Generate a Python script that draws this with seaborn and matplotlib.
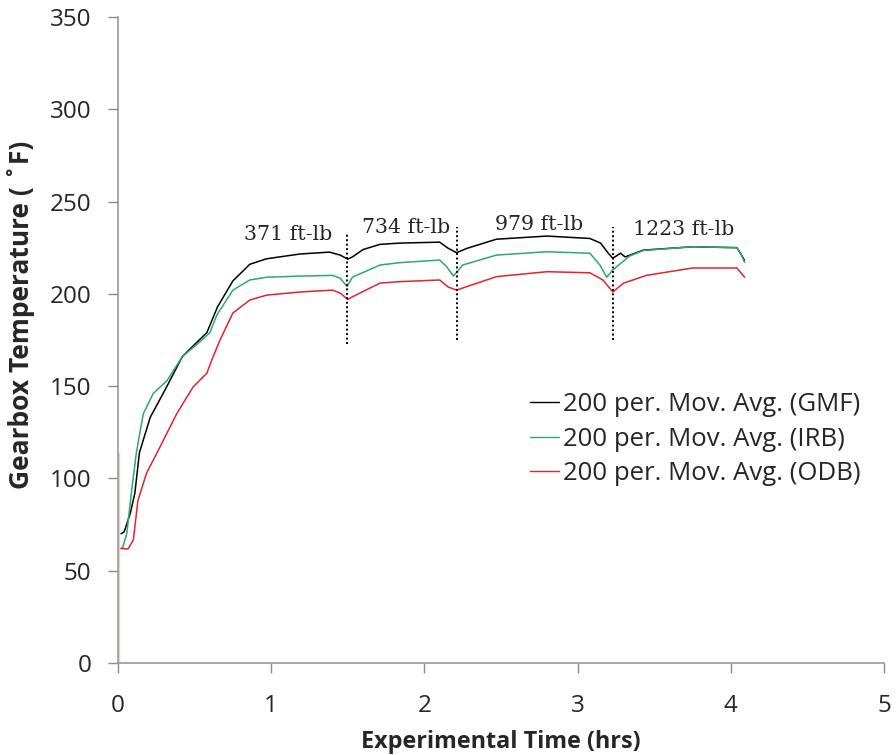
import numpy as np
import pandas as pd
import matplotlib
matplotlib.use("Agg")
import matplotlib.pyplot as plt
import seaborn as sns

# values (time in hrs, temperature in deg F)
gmf_t = [0.02, 0.04, 0.08, 0.11, 0.14, 0.21, 0.32, 0.42, 0.53, 0.58, 0.65, 0.75, 0.86, 0.97,
         1.19, 1.38, 1.45, 1.50, 1.53, 1.60, 1.71, 1.84, 2.10, 2.155, 2.21, 2.28, 2.47, 2.80,
         3.08, 3.15, 3.20, 3.23, 3.28, 3.31, 3.43, 3.75, 4.04, 4.07, 4.09]
gmf_T = [70, 71, 81, 92, 114, 133, 150, 166, 175, 179, 193, 207, 216, 219,
         221.6, 222.6, 221, 218.8, 220, 224, 226.8, 227.5, 228, 224.7, 222.3, 224.7, 229.6, 231.3,
         230, 227.5, 222, 219.3, 222, 220, 223.7, 225.5, 225, 221, 218]

irb_t = [0.02, 0.03, 0.057, 0.09, 0.12, 0.165, 0.23, 0.32, 0.42, 0.535, 0.60, 0.645, 0.75, 0.86,
         0.97, 1.19, 1.40, 1.45, 1.495, 1.53, 1.71, 1.84, 2.10, 2.145, 2.19, 2.25, 2.47, 2.80,
         3.08, 3.146, 3.19, 3.23, 3.34, 3.43, 3.75, 4.04, 4.07, 4.09]
irb_T = [62, 62.5, 70, 94, 114, 135, 146, 153, 166, 174, 179, 188.5, 202, 207.5,
         209, 209.6, 210, 208.5, 204, 209, 215.6, 216.9, 218.3, 214.7, 209.6, 215.6, 221, 222.8,
         222, 215.6, 209, 213, 220.5, 223.5, 225.5, 225, 221, 217]

odb_t = [0.02, 0.03, 0.065, 0.10, 0.13, 0.187, 0.274, 0.383, 0.49, 0.58, 0.62, 0.666, 0.75, 0.86,
         0.97, 1.19, 1.40, 1.45, 1.50, 1.53, 1.71, 1.84, 2.10, 2.155, 2.21, 2.276, 2.47, 2.80,
         3.08, 3.165, 3.23, 3.30, 3.45, 3.75, 4.04, 4.09]
odb_T = [62, 62, 61.7, 66.6, 88, 103, 117, 135, 149.5, 157, 165.8, 175, 189.6, 196.6,
         199.3, 201, 202, 200.4, 197, 198.4, 205.8, 206.6, 207.5, 203.7, 202, 203.9, 209.3, 212,
         211.4, 207.5, 201, 205.8, 210, 214, 214, 209]

series_names = ["200 per. Mov. Avg. (GMF)", "200 per. Mov. Avg. (IRB)", "200 per. Mov. Avg. (ODB)"]
series_colors = ["#000000", "#2fa86e", "#e3242b"]

# load changes (dotted markers) and torque labels
load_t = [1.495, 2.21, 3.23]
load_lo = [173, 175, 175]
load_hi = [233, 236, 236]
torque_labels = ["371 ft-lb", "734 ft-lb", "979 ft-lb", "1223 ft-lb"]
torque_t = [1.11, 1.88, 2.75, 3.69]
torque_T = [232.4, 236, 237.8, 235]

df = pd.concat([
    pd.DataFrame({"t": gmf_t, "T": gmf_T, "s": series_names[0]}),
    pd.DataFrame({"t": irb_t, "T": irb_T, "s": series_names[1]}),
    pd.DataFrame({"t": odb_t, "T": odb_T, "s": series_names[2]}),
])

sns.set_theme(style="ticks")
plt.rcParams["font.family"] = ["Open Sans", "DejaVu Sans"]

fig = plt.figure(figsize=(8.96, 7.55), dpi=100)
ax = fig.add_axes([0.1317, 0.1219, 0.8549, 0.8556])

sns.lineplot(data=df, x="t", y="T", hue="s", palette=series_colors, linewidth=1.1,
             sort=False, estimator=None, ax=ax)

ax.vlines(load_t, load_lo, load_hi, colors="black", linestyles=(0, (1, 1.3)), linewidth=1.4)
for lab, x, y in zip(torque_labels, torque_t, torque_T):
    ax.text(x, y, lab, ha="center", va="center", fontsize=14.8, family="DejaVu Serif")

ax.set_xlim(0, 5)
ax.set_ylim(0, 350)
ax.set_xticks(range(0, 6))
ax.set_yticks(range(0, 351, 50))
ax.tick_params(labelsize=17.5, length=7, width=1, color="#8c8c8c")
ax.tick_params(axis="x", pad=15)
ax.tick_params(axis="y", pad=12)
for side in ["left", "bottom"]:
    ax.spines[side].set_color("#9a9a9a")
    ax.spines[side].set_linewidth(1.2)
sns.despine(ax=ax)
ax.axvline(0, ymin=0, ymax=113 / 350, color="#ddd8c6", linewidth=2.5, zorder=1)

ax.set_xlabel("Experimental Time (hrs)", fontsize=16.8, fontweight="bold", labelpad=9)
ax.set_ylabel("Gearbox Temperature ( ˚F)", fontsize=19, fontweight="bold")
ax.yaxis.set_label_coords(-0.108, 0.539)

leg = ax.legend(loc="center left", bbox_to_anchor=(0.525, 0.3467), frameon=False,
                fontsize=18.5, handlelength=1.1, handletextpad=0.16, labelspacing=0.36,
                borderaxespad=0)
for h in leg.get_lines():
    h.set_linewidth(1.0)

fig.savefig("out.png", dpi=100)
